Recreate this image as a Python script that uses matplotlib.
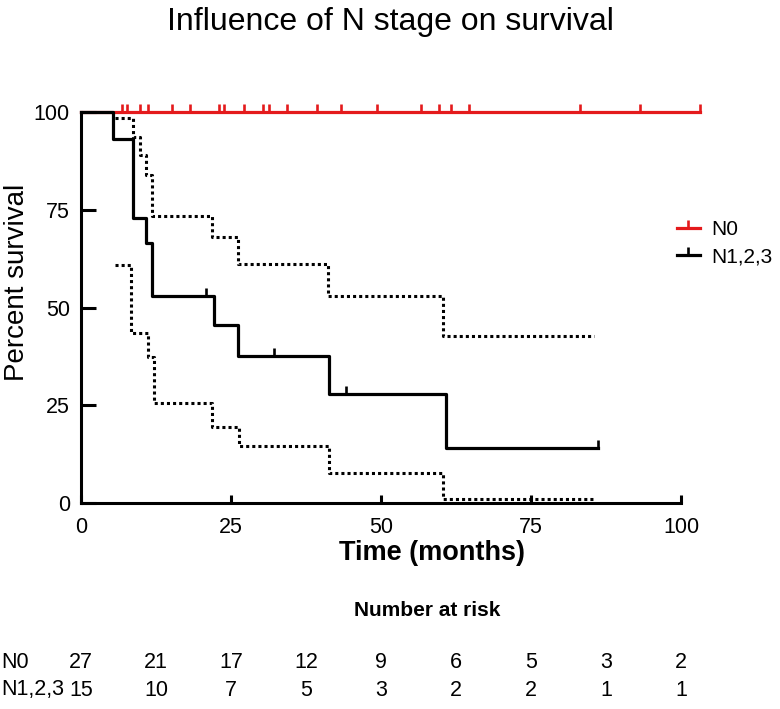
import numpy as np
import matplotlib.pyplot as plt
from matplotlib.lines import Line2D
from matplotlib.transforms import blended_transform_factory

plt.rcParams["font.family"] = ["Liberation Sans", "DejaVu Sans"]

# N0 group: nobody died, only censored follow-up (months)
n0_times = [0, 103.2]
n0_surv = [100, 100]
n0_censored = [6.9, 7.6, 9.8, 11.1, 15.1, 18.1, 23.0, 23.8, 27.2, 30.3, 31.3,
               34.3, 39.3, 43.4, 49.3, 56.6, 59.7, 61.6, 64.7, 83.1, 93.2, 103.2]

# N1,2,3 group: Kaplan-Meier estimate
n123_times = [0, 5.4, 8.7, 10.9, 11.9, 22.2, 26.2, 41.3, 60.8, 86.2]
n123_surv = [100, 93, 73, 66.5, 53, 45.5, 37.5, 28, 14, 14]
n123_censored = [20.8, 32.2, 44.1, 86.2]

# 95% CI for N1,2,3
ci_upper_times = [5.6, 8.7, 9.8, 10.9, 11.8, 21.8, 26.1, 41.2, 60.3, 85.5]
ci_upper = [98.4, 93.7, 89, 83.9, 73.4, 68.1, 61.1, 53.0, 42.7, 42.7]
ci_lower_times = [5.6, 8.4, 11.2, 12.1, 21.8, 26.4, 41.3, 60.4, 85.5]
ci_lower = [60.9, 43.4, 37.4, 25.7, 19.5, 14.7, 7.6, 1.0, 1.0]

# number at risk table
risk_times = [0, 12.5, 25, 37.5, 50, 62.5, 75, 87.5, 100]
risk_n0 = [27, 21, 17, 12, 9, 6, 5, 3, 2]
risk_n123 = [15, 10, 7, 5, 3, 2, 2, 1, 1]

red = "#e41a1c"
tick_marker = [(0, 0), (0, 1)]  # upward censor tick


def step_value(times, surv, t):
    i = np.searchsorted(times, t, side="right") - 1
    return np.asarray(surv)[i]


fig = plt.figure(figsize=(7.8, 7.09), dpi=100)
ax = fig.add_axes([81 / 780, 1 - 503 / 709, 600 / 780, 391 / 709])

# N0
ax.step(n0_times, n0_surv, where="post", color=red, lw=2.3, clip_on=False)
ax.plot(n0_censored, step_value(n0_times, n0_surv, n0_censored), ls="none",
        marker=tick_marker, ms=11.5, mew=1.9, mec=red, clip_on=False)

# N1,2,3
ax.step(n123_times, n123_surv, where="post", color="black", lw=2.3, clip_on=False)
ax.plot(n123_censored, step_value(n123_times, n123_surv, n123_censored), ls="none",
        marker=tick_marker, ms=11, mew=1.9, mec="black", clip_on=False)

# confidence bands
ax.step(ci_upper_times, ci_upper, where="post", color="black", lw=2.2,
        ls=(0, (1, 1)), clip_on=False)
ax.step(ci_lower_times, ci_lower, where="post", color="black", lw=2.2,
        ls=(0, (1, 1)), clip_on=False)

ax.set_xlim(0, 100)
ax.set_ylim(0, 100)
ax.set_xticks([0, 25, 50, 75, 100])
ax.set_yticks([0, 25, 50, 75, 100])
ax.spines[["top", "right"]].set_visible(False)
for s in ["left", "bottom"]:
    ax.spines[s].set_linewidth(2.2)
ax.tick_params(axis="x", direction="in", length=6, width=2.2, labelsize=15.5, pad=10)
ax.tick_params(axis="y", direction="in", length=10.5, width=2.2, labelsize=15.5, pad=8)
ax.set_axisbelow(False)

# legend
handles = [
    Line2D([], [], color=red, lw=2.3, marker=tick_marker, ms=11, mew=1.9, mec=red),
    Line2D([], [], color="black", lw=2.3, marker=tick_marker, ms=11, mew=1.9, mec="black"),
]
fig.legend(handles, ["N0", "N1,2,3"], loc="center left",
           bbox_to_anchor=(677 / 780, 1 - 243 / 709), frameon=False, fontsize=15,
           handlelength=1.1, handletextpad=0.55, labelspacing=0.4,
           borderpad=0, borderaxespad=0)

# titles and labels
fig.text(390 / 780, 1 - 22 / 709, "Influence of N stage on survival",
         ha="center", va="center", fontsize=23)
fig.text(17 / 780, 1 - 282 / 709, "Percent survival", rotation=90,
         ha="center", va="center", fontsize=20)
fig.text(432 / 780, 1 - 553 / 709, "Time (months)", ha="center", va="center",
         fontsize=19.5, fontweight="bold")
fig.text(427 / 780, 1 - 611 / 709, "Number at risk", ha="center", va="center",
         fontsize=15, fontweight="bold")

# number at risk rows
trans = blended_transform_factory(ax.transData, fig.transFigure)
row_y = [1 - 662 / 709, 1 - 690 / 709]
for label, counts, y in zip(["N0", "N1,2,3"], [risk_n0, risk_n123], row_y):
    fig.text(1 / 780, y, label, ha="left", va="center", fontsize=15.5)
    for t, n in zip(risk_times, counts):
        ax.text(t, y, str(n), transform=trans, ha="center", va="center", fontsize=15.5)

plt.savefig("out.png", dpi=100)
